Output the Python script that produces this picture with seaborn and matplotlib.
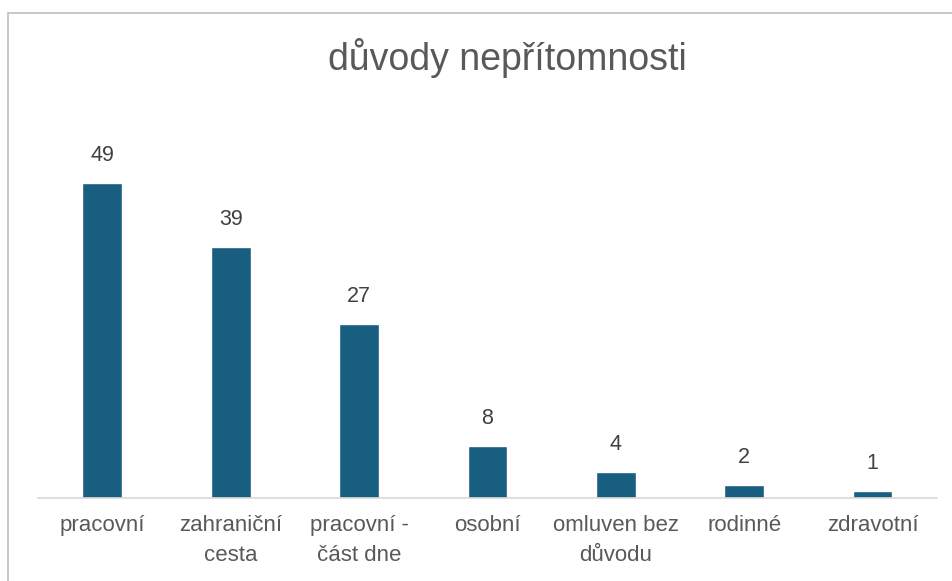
import matplotlib
matplotlib.use("Agg")
import matplotlib.pyplot as plt
import seaborn as sns
import pandas as pd
from matplotlib.patches import Rectangle

# data
categories = ["pracovní", "zahraniční\ncesta", "pracovní -\nčást dne", "osobní",
              "omluven bez\ndůvodu", "rodinné", "zdravotní"]
counts = [49, 39, 27, 8, 4, 2, 1]

df = pd.DataFrame({"duvod": categories, "pocet": counts})

sns.set_style("white")
plt.rcParams["font.family"] = ["Liberation Sans", "DejaVu Sans"]

fig = plt.figure(figsize=(9.52, 5.81), dpi=100)
ax = fig.add_axes([0.04, 0.143, 0.944, 0.664])

sns.barplot(data=df, x="duvod", y="pocet", color="#185e80", width=0.31, ax=ax,
            saturation=1)

for i, v in enumerate(counts):
    ax.annotate(str(v), (i, v), xytext=(0, 20), textcoords="offset points",
                ha="center", va="center", fontsize=15.5, color="#404040")

ax.set_ylim(0, 60)
ax.set_xlim(-0.5, 6.5)
ax.set_xlabel("")
ax.set_ylabel("")
ax.set_yticks([])
for s in ["top", "right", "left"]:
    ax.spines[s].set_visible(False)
ax.spines["bottom"].set_color("#d9d9d9")
ax.spines["bottom"].set_linewidth(1.2)
ax.tick_params(axis="x", length=0, pad=12, labelsize=16, labelcolor="#595959")
for lbl in ax.get_xticklabels():
    lbl.set_linespacing(1.6)

fig.text(0.533, 0.9, "důvody nepřítomnosti", ha="center", va="center",
         fontsize=27, color="#595959")

# chart frame
fig.patches.append(Rectangle((8 / 952, -0.1), 1.2, 1.1 - 13 / 581,
                             transform=fig.transFigure, fill=False,
                             edgecolor="#bfbfbf", linewidth=1.2))

fig.savefig("out.png", dpi=100)
